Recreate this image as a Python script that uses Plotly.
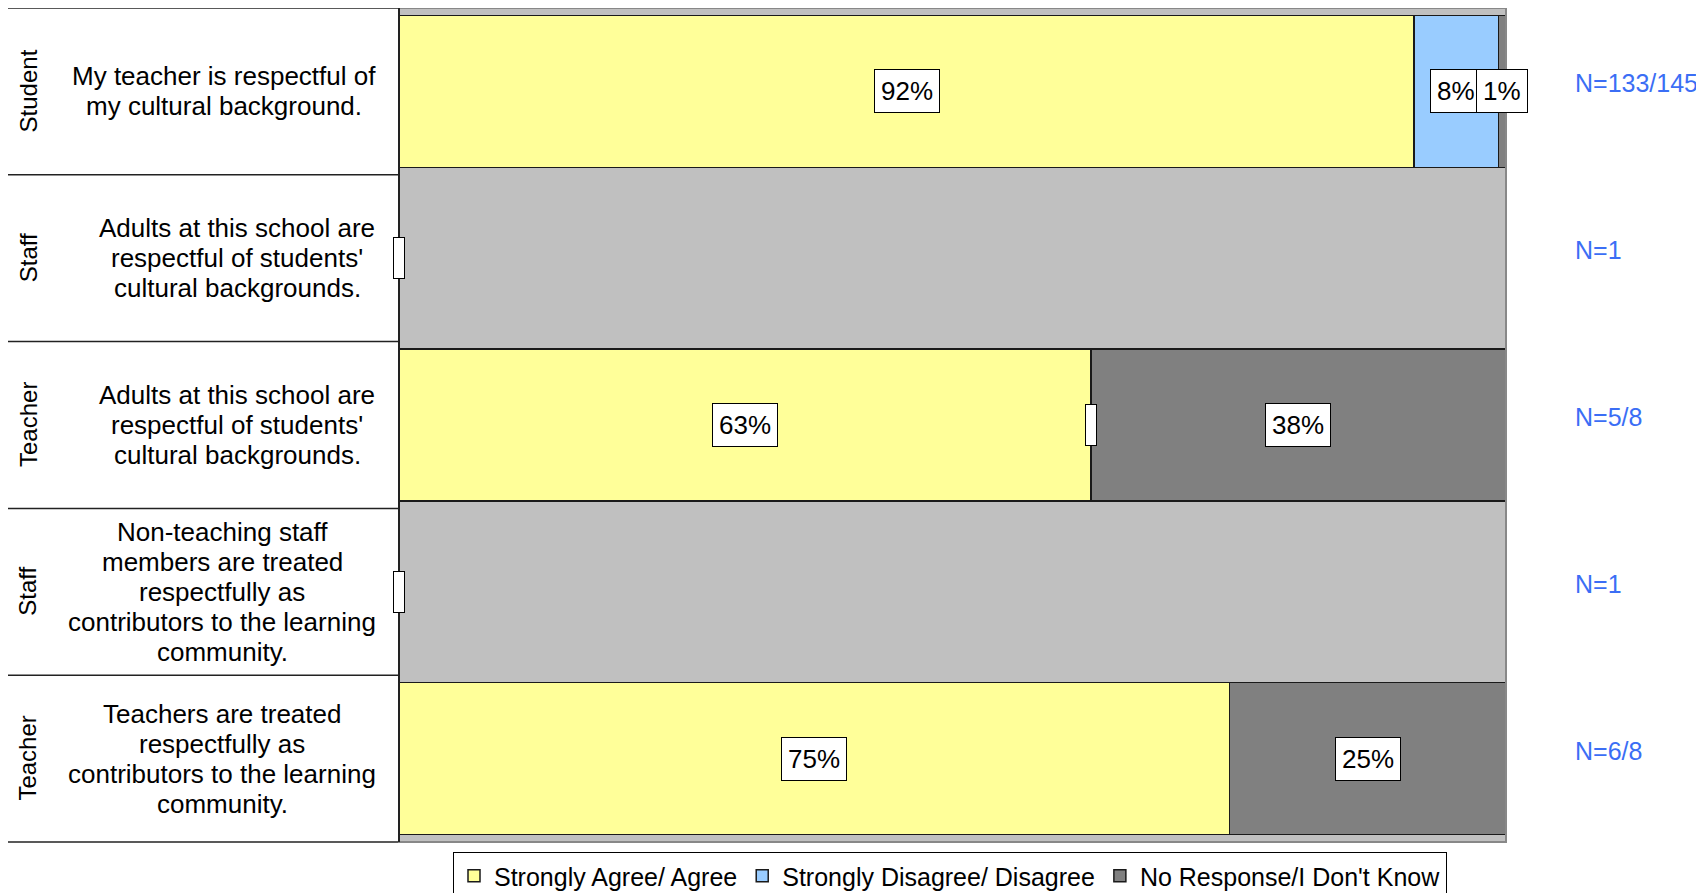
import plotly.graph_objects as go

## données du graphique
groups = ["Student", "Staff", "Teacher", "Staff", "Teacher"]
questions = [
    ["My teacher is respectful of", "my cultural background."],
    ["Adults at this school are", "respectful of students'", "cultural backgrounds."],
    ["Adults at this school are", "respectful of students'", "cultural backgrounds."],
    ["Non-teaching staff", "members are treated", "respectfully as",
     "contributors to the learning", "community."],
    ["Teachers are treated", "respectfully as", "contributors to the learning", "community."],
]
agree = [91.7, 0, 62.5, 0, 75.0]
disagree = [7.6, None, 0, None, None]
no_response = [0.7, None, 37.5, None, 25.0]
agree_labels = ["92%", "", "63%", "", "75%"]
disagree_labels = ["8%", "", "", "", ""]
no_response_labels = ["1%", "", "38%", "", "25%"]
n_labels = ["N=133/145", "N=1", "N=5/8", "N=1", "N=6/8"]

series = [
    ("Strongly Agree/ Agree", agree, agree_labels, "#FFFF99"),
    ("Strongly Disagree/ Disagree", disagree, disagree_labels, "#99CCFF"),
    ("No Response/I Don't Know", no_response, no_response_labels, "#808080"),
]

FONT = "Liberation Sans, Arial, sans-serif"
rows = list(range(len(groups)))

## mise en page (px) : la page ajoute une marge de 8 px
W, H = 1696, 885
ML, MR, MT, MB = 391, 198, 0, 51
PW = W - ML - MR
LINE_H = 30
## centre horizontal (px) de chaque bloc de texte à gauche
text_centers = [216, 229, 229, 214, 214]


def px_to_paper(px):
    return (px - ML) / PW


fig = go.Figure()
annotations = []
shapes = []

## barres empilées + étiquettes
cumul = [0.0] * len(rows)
for name, values, labels, color in series:
    fig.add_trace(go.Bar(
        x=values, y=rows, orientation="h", name=name,
        marker=dict(color=color, line=dict(color="#1a1a1a", width=1.5)),
        hoverinfo="skip",
    ))
    for i, (v, lab) in enumerate(zip(values, labels)):
        if v is None:
            continue
        box = dict(x=cumul[i] + v / 2, y=i, xref="x", yref="y", showarrow=False,
                   bgcolor="white", bordercolor="black", borderwidth=1)
        if lab:
            box.update(text=lab, borderpad=6,
                       font=dict(size=26, color="black", family=FONT))
        else:
            ## petite boîte vide pour une valeur à 0
            box.update(text=" ", width=4, height=34, borderpad=3,
                       font=dict(size=10, color="black", family=FONT))
        annotations.append(box)
        cumul[i] += v

## libellés à gauche (groupe + question) et N à droite
for i in rows:
    annotations.append(dict(
        x=px_to_paper(20), y=i, xref="paper", yref="y", text=groups[i], textangle=-90,
        xanchor="center", yanchor="middle", showarrow=False,
        font=dict(size=24, color="black", family=FONT),
    ))
    n = len(questions[i])
    for j, line in enumerate(questions[i]):
        annotations.append(dict(
            x=px_to_paper(text_centers[i]), y=i, xref="paper", yref="y", text=line,
            xanchor="center", yanchor="middle", yshift=((n - 1) / 2 - j) * LINE_H,
            showarrow=False, font=dict(size=26, color="black", family=FONT),
        ))
    annotations.append(dict(
        x=px_to_paper(1565), y=i, xref="paper", yref="y", text=n_labels[i],
        xanchor="left", yanchor="middle", yshift=8, showarrow=False,
        font=dict(size=25, color="#3B6EF5", family=FONT),
    ))

## lignes du tableau à gauche
for k in range(len(rows) + 1):
    yk = 1 - k / len(rows)
    shapes.append(dict(
        type="line", xref="paper", yref="paper", x0=px_to_paper(0), x1=0, y0=yk, y1=yk,
        line=dict(color="#222222", width=1.5),
    ))
## cadre de la zone de tracé
shapes.append(dict(
    type="rect", xref="paper", yref="paper", x0=0, x1=1, y0=0, y1=1,
    line=dict(color="#888888", width=2), layer="above",
))
shapes.append(dict(
    type="line", xref="paper", yref="paper", x0=0, x1=0, y0=0, y1=1,
    line=dict(color="#222222", width=2), layer="above",
))

fig.update_layout(
    barmode="stack", bargap=0.09,
    width=W, height=H,
    margin=dict(l=ML, r=MR, t=MT, b=MB, pad=0),
    plot_bgcolor="#C0C0C0", paper_bgcolor="white",
    font=dict(family=FONT, color="black"),
    xaxis=dict(range=[0, 100], showticklabels=False, showgrid=False, zeroline=False, ticks=""),
    yaxis=dict(range=[4.5, -0.5], showticklabels=False, showgrid=False, zeroline=False, ticks=""),
    legend=dict(
        orientation="h", x=px_to_paper(942), xanchor="center",
        yref="container", y=1 - 844 / H, yanchor="top",
        bgcolor="white", bordercolor="black", borderwidth=1,
        font=dict(size=25, family=FONT, color="black"), traceorder="normal",
    ),
    annotations=annotations, shapes=shapes,
)

fig.write_html("out.html")
